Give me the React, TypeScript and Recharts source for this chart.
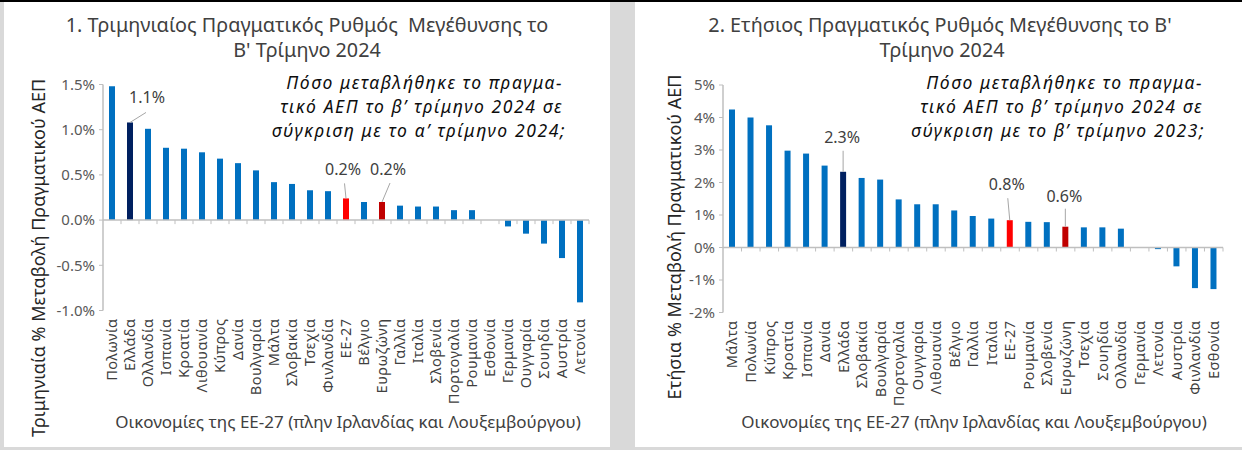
import React from "react";
import { BarChart, Bar, XAxis, YAxis, Cell, ReferenceLine, LabelList } from "recharts";

// Chart 1: quarterly real GDP growth, Q2 2024 vs Q1 2024
const quarterlyNames = [
  "Πολωνία", "Ελλάδα", "Ολλανδία", "Ισπανία", "Κροατία", "Λιθουανία", "Κύπρος",
  "Δανία", "Βουλγαρία", "Μάλτα", "Σλοβακία", "Τσεχία", "Φινλανδία", "ΕΕ-27",
  "Βέλγιο", "Ευρωζώνη", "Γαλλία", "Ιταλία", "Σλοβενία", "Πορτογαλία", "Ρουμανία",
  "Εσθονία", "Γερμανία", "Ουγγαρία", "Σουηδία", "Αυστρία", "Λετονία",
];
const quarterlyValues = [
  1.48, 1.08, 1.01, 0.8, 0.79, 0.75, 0.68, 0.63, 0.55, 0.42, 0.4, 0.33, 0.32, 0.24,
  0.2, 0.2, 0.16, 0.15, 0.15, 0.11, 0.11, 0, -0.07, -0.15, -0.26, -0.42, -0.91,
];
const quarterlyTicks = [-1, -0.5, 0, 0.5, 1, 1.5];

// Chart 2: annual real GDP growth, Q2 2024 vs Q2 2023
const annualNames = [
  "Μάλτα", "Πολωνία", "Κύπρος", "Κροατία", "Ισπανία", "Δανία", "Ελλάδα",
  "Σλοβακία", "Βουλγαρία", "Πορτογαλία", "Ουγγαρία", "Λιθουανία", "Βέλγιο",
  "Γαλλία", "Ιταλία", "ΕΕ-27", "Ρουμανία", "Σλοβενία", "Ευρωζώνη", "Τσεχία",
  "Σουηδία", "Ολλανδία", "Γερμανία", "Λετονία", "Αυστρία", "Φινλανδία", "Εσθονία",
];
const annualValues = [
  4.25, 4.0, 3.76, 2.98, 2.89, 2.52, 2.33, 2.14, 2.09, 1.48, 1.33, 1.33, 1.14,
  0.97, 0.89, 0.84, 0.79, 0.78, 0.64, 0.62, 0.62, 0.58, 0, -0.05, -0.58, -1.25, -1.28,
];
const annualTicks = [-2, -1, 0, 1, 2, 3, 4, 5];

const FONT = "'Noto Sans', sans-serif";
const BLUE = "#0070C0";
const highlight: Record<string, string> = {
  "Ελλάδα": "#002060",
  "ΕΕ-27": "#FF0000",
  "Ευρωζώνη": "#C00000",
};

type Callout = { lx: number; ly: number; tx: number; ty: number };

const quarterlyCallouts: Record<string, Callout> = {
  "Ελλάδα": { lx: 16, ly: -10, tx: 17, ty: -19 },
  "ΕΕ-27": { lx: -1.5, ly: -15, tx: -3, ty: -23 },
  "Ευρωζώνη": { lx: 8, ly: -19, tx: 6, ty: -27 },
};
const annualCallouts: Record<string, Callout> = {
  "Ελλάδα": { lx: 0, ly: -21, tx: -1, ty: -29 },
  "ΕΕ-27": { lx: -2, ly: -22, tx: -3, ty: -30 },
  "Ευρωζώνη": { lx: 0, ly: -18, tx: -1, ty: -25 },
};

const XTick = (props: any) => {
  const { x, y, payload } = props;
  return (
    <text
      x={x}
      y={y}
      transform={`rotate(-90, ${x}, ${y})`}
      textAnchor="end"
      dy="0.36em"
      fontSize={14.5}
      letterSpacing={0.5}
      fill="#404040"
      fontFamily={FONT}
    >
      {payload.value}
    </text>
  );
};

const zeroLine = (count: number) => (props: any) => {
  const { x1, y1, x2 } = props;
  const step = (x2 - x1) / count;
  return (
    <g>
      <line x1={x1} y1={y1} x2={x2} y2={y1} stroke="#bfbfbf" strokeWidth={1.5} />
      {Array.from({ length: count }, (_, i) => {
        const x = x1 + step * (i + 1);
        return <line key={i} x1={x} x2={x} y1={y1} y2={y1 + 4} stroke="#bfbfbf" />;
      })}
    </g>
  );
};

interface PanelProps {
  names: string[];
  values: number[];
  ticks: number[];
  fmt: (v: number) => string;
  callouts: Record<string, Callout>;
  width: number;
  height: number;
  top: number;
  right: number;
  yWidth: number;
  xHeight: number;
}

const Panel = ({ names, values, ticks, fmt, callouts, width, height, top, right, yWidth, xHeight }: PanelProps) => {
  const data = names.map((name, i) => ({ name, value: values[i] }));

  const renderCallout = (props: any) => {
    const { x, y, width: w, value, index } = props;
    const entry = data[index];
    if (!entry) return null;
    const c = callouts[entry.name];
    if (!c) return null;
    const cx = Number(x) + Number(w) / 2;
    const cy = Number(y);
    return (
      <g>
        <line x1={cx} y1={cy} x2={cx + c.lx} y2={cy + c.ly} stroke="#a6a6a6" strokeWidth={1} />
        <text x={cx + c.tx} y={cy + c.ty} textAnchor="middle" fontSize={16} fill="#404040" fontFamily={FONT}>
          {Number(value).toFixed(1)}%
        </text>
      </g>
    );
  };

  return (
    <BarChart width={width} height={height} data={data} margin={{ top, right, bottom: 0, left: 0 }}>
      <XAxis
        dataKey="name"
        interval={0}
        tick={<XTick />}
        tickLine={false}
        axisLine={false}
        height={xHeight}
      />
      <YAxis
        domain={[ticks[0], ticks[ticks.length - 1]]}
        ticks={ticks}
        tickFormatter={fmt}
        width={yWidth}
        tickSize={4}
        tickMargin={4}
        tick={{ fontSize: 15, fill: "#595959", fontFamily: FONT }}
        axisLine={{ stroke: "#bfbfbf", strokeWidth: 1.5 }}
        tickLine={{ stroke: "#bfbfbf" }}
      />
      <ReferenceLine y={0} shape={zeroLine(names.length)} />
      <Bar dataKey="value" barSize={6} isAnimationActive={false}>
        {data.map((d) => (
          <Cell key={d.name} fill={highlight[d.name] ?? BLUE} />
        ))}
        <LabelList dataKey="value" content={renderCallout} />
      </Bar>
    </BarChart>
  );
};

const textStyle = { fontFamily: FONT };

export default function App() {
  return (
    <div
      style={{
        position: "fixed",
        left: 0,
        top: 0,
        width: 1242,
        height: 450,
        background: "#d9d9d9",
        overflow: "hidden",
        fontFamily: FONT,
      }}
    >
      <div style={{ position: "absolute", left: 0, top: 0, width: 1242, height: 2, background: "#000" }} />
      <div style={{ position: "absolute", left: 4, top: 2, width: 606, height: 445, background: "#fff" }}>
        <Panel
          names={quarterlyNames}
          values={quarterlyValues}
          ticks={quarterlyTicks}
          fmt={(v) => `${v.toFixed(1)}%`}
          callouts={quarterlyCallouts}
          width={606}
          height={445}
          top={82.5}
          right={21}
          yWidth={99}
          xHeight={136.5}
        />
      </div>
      <div style={{ position: "absolute", left: 635, top: 2, width: 607, height: 445, background: "#fff" }}>
        <Panel
          names={annualNames}
          values={annualValues}
          ticks={annualTicks}
          fmt={(v) => `${v}%`}
          callouts={annualCallouts}
          width={607}
          height={445}
          top={83}
          right={19}
          yWidth={88}
          xHeight={134.5}
        />
      </div>
      <svg
        width={1242}
        height={450}
        style={{ position: "absolute", left: 0, top: 0, pointerEvents: "none" }}
      >
        <g style={textStyle} fill="#404040" fontSize={19.8} textAnchor="middle">
          <text x={307} y={32}>
            {"1. Τριμηνιαίος Πραγματικός Ρυθμός\u00a0 Μεγέθυνσης το"}
          </text>
          <text x={307} y={57}>
            Β' Τρίμηνο 2024
          </text>
          <text x={940} y={32}>
            2. Ετήσιος Πραγματικός Ρυθμός Μεγέθυνσης το Β'
          </text>
          <text x={942} y={57}>
            Τρίμηνο 2024
          </text>
        </g>
        <g style={textStyle} fill="#0d0d0d" fontStyle="italic" fontSize={17.5} letterSpacing={1.6} textAnchor="end">
          <text x={563} y={89}>Πόσο μεταβλήθηκε το πραγμα-</text>
          <text x={563} y={113}>τικό ΑΕΠ το β’ τρίμηνο 2024 σε</text>
          <text x={566} y={137}>σύγκριση με το α’ τρίμηνο 2024;</text>
          <text x={1203} y={89}>Πόσο μεταβλήθηκε το πραγμα-</text>
          <text x={1203} y={113}>τικό ΑΕΠ το β’ τρίμηνο 2024 σε</text>
          <text x={1205} y={137}>σύγκριση με το β’ τρίμηνο 2023;</text>
        </g>
        <g style={textStyle} fill="#262626" fontSize={18} textAnchor="middle">
          <text transform="translate(45, 258) rotate(-90)">Τριμηνιαία % Μεταβολή Πραγματικού ΑΕΠ</text>
          <text transform="translate(681, 237) rotate(-90)">Ετήσια % Μεταβολή Πραγματικού ΑΕΠ</text>
        </g>
        <g style={textStyle} fill="#404040" fontSize={17} textAnchor="middle">
          <text x={348} y={428}>Οικονομίες της ΕΕ-27 (πλην Ιρλανδίας και Λουξεμβούργου)</text>
          <text x={974} y={428}>Οικονομίες της ΕΕ-27 (πλην Ιρλανδίας και Λουξεμβούργου)</text>
        </g>
      </svg>
    </div>
  );
}
